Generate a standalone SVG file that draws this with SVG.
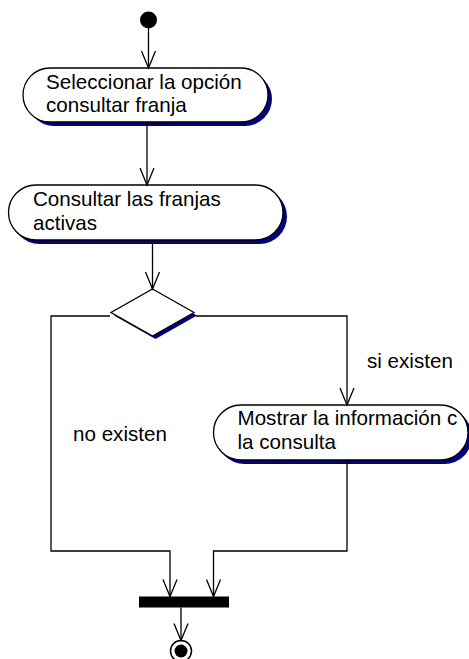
<svg xmlns="http://www.w3.org/2000/svg" width="469" height="659" viewBox="0 0 469 659">
<style>
.node{fill:#fff;stroke:#000;stroke-width:1.3}
.shadow{fill:#000080;stroke:none}
.lbl{font-family:"Liberation Sans",Arial,sans-serif;font-size:20.6px;fill:#000}
.edge{fill:none;stroke:#000;stroke-width:1.3}
</style>
<defs>
<marker id="arr" markerUnits="userSpaceOnUse" markerWidth="20" markerHeight="20" viewBox="-18 -9 20 18" refX="0" refY="0" orient="auto">
<path d="M-17,-7 L0,0 L-17,7" fill="none" stroke="#000" stroke-width="1.3"/>
</marker>
</defs>
<rect width="469" height="659" fill="#fff"/>
<g id="start"><circle cx="148.5" cy="20" r="8.5" fill="#000"/></g>
<g id="n1">
<rect class="shadow" x="27" y="72" width="245" height="54" rx="27" ry="27"/>
<rect class="node" x="23" y="68" width="245" height="54" rx="27" ry="27"/>
<text class="lbl" x="46" y="88.5">Seleccionar la opción</text>
<text class="lbl" x="46" y="112">consultar franja</text>
</g>
<g id="n2">
<rect class="shadow" x="12" y="189" width="275" height="55" rx="27.5" ry="27.5"/>
<rect class="node" x="8.5" y="185" width="274.5" height="55" rx="27.5" ry="27.5"/>
<text class="lbl" x="33" y="205.5">Consultar las franjas</text>
<text class="lbl" x="33" y="229.5">activas</text>
</g>
<g id="decision">
<polygon class="shadow" points="155.5,292 197,315.5 155.5,339 114,315.5"/>
<polygon class="node" points="152.5,289 194,312.5 152.5,336 111,312.5"/>
</g>
<g id="n3">
<rect class="shadow" x="217" y="409" width="255" height="55" rx="27.5" ry="27.5"/>
<rect class="node" x="213.5" y="405" width="254.5" height="55" rx="27.5" ry="27.5"/>
<text class="lbl" x="237.5" y="425">Mostrar la información c</text>
<text class="lbl" x="237.5" y="449">la consulta</text>
</g>
<g id="join"><rect x="139" y="596.5" width="90" height="11" fill="#000"/></g>
<g id="end">
<circle cx="181" cy="651" r="10.5" fill="#fff" stroke="#000" stroke-width="1.5"/>
<circle cx="181" cy="651" r="6.5" fill="#000"/>
</g>
<g id="edges">
<path class="edge" d="M148.5,28 L148.5,68" marker-end="url(#arr)"/>
<path class="edge" d="M147,122 L147,185" marker-end="url(#arr)"/>
<path class="edge" d="M152.5,240 L152.5,289" marker-end="url(#arr)"/>
<path class="edge" d="M110,316 L51,316 L51,551 L170,551 L170,596.5" marker-end="url(#arr)"/>
<path class="edge" d="M196,316 L347,316 L347,405" marker-end="url(#arr)"/>
<path class="edge" d="M347,460 L347,551 L213.5,551 L213.5,596.5" marker-end="url(#arr)"/>
<path class="edge" d="M181,607.5 L181,640.5" marker-end="url(#arr)"/>
</g>
<g id="labels">
<text class="lbl" x="367" y="368">si existen</text>
<text class="lbl" x="73" y="441">no existen</text>
</g>
</svg>
